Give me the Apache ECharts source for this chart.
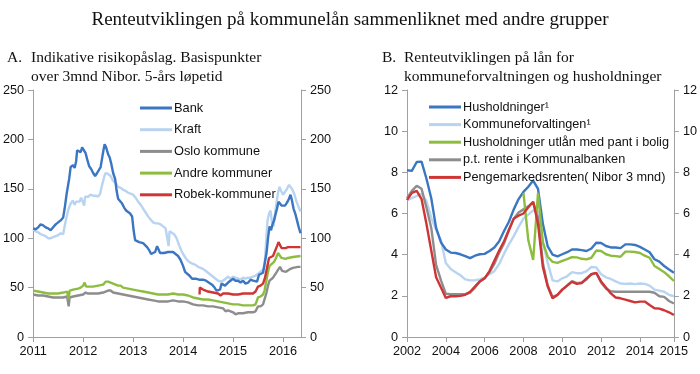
<!DOCTYPE html>
<html><head><meta charset="utf-8">
<script src="https://cdn.jsdelivr.net/npm/echarts@6/dist/echarts.min.js"></script>
<style>html,body{margin:0;padding:0;background:#fff}#c{width:700px;height:374px}</style>
</head><body><div id="c"></div>
<script>
// ---------- Panel A data: [decimal year, basis points] ----------
const bank = [[2011.0,110],[2011.05,109],[2011.1,111],[2011.15,114],[2011.2,113],[2011.25,111],[2011.3,110],[2011.35,108],[2011.4,111],[2011.45,114],[2011.5,116],[2011.55,118],[2011.6,121],[2011.63,130],[2011.67,145],[2011.72,160],[2011.75,172],[2011.8,174],[2011.83,171],[2011.86,178],[2011.88,189],[2011.92,190],[2011.95,187],[2011.98,192],[2012.02,194],[2012.05,186],[2012.08,180],[2012.12,173],[2012.16,170],[2012.2,166],[2012.24,163],[2012.28,166],[2012.31,166],[2012.35,172],[2012.38,181],[2012.41,190],[2012.43,195],[2012.46,192],[2012.5,185],[2012.53,182],[2012.56,176],[2012.6,166],[2012.64,160],[2012.67,148],[2012.7,140],[2012.74,138],[2012.78,135],[2012.82,131],[2012.86,128],[2012.9,126],[2012.94,125],[2012.98,122],[2013.01,108],[2013.04,98],[2013.08,96],[2013.12,96],[2013.16,94],[2013.2,95],[2013.24,93],[2013.28,91],[2013.32,88],[2013.36,84],[2013.4,82],[2013.44,86],[2013.48,92],[2013.51,90],[2013.54,85],[2013.58,84],[2013.62,85],[2013.66,85],[2013.7,86],[2013.75,86],[2013.8,86],[2013.85,84],[2013.9,82],[2013.95,78],[2014.0,72],[2014.04,66],[2014.08,64],[2014.13,62],[2014.18,59],[2014.25,59],[2014.32,58],[2014.4,58],[2014.46,57],[2014.52,55],[2014.58,53],[2014.63,50],[2014.67,47],[2014.71,45],[2014.74,48],[2014.77,54],[2014.8,56],[2014.84,52],[2014.88,53],[2014.92,56],[2014.96,56],[2015.0,59],[2015.05,57],[2015.1,57],[2015.15,55],[2015.2,57],[2015.25,54],[2015.3,55],[2015.35,58],[2015.4,57],[2015.44,55],[2015.48,56],[2015.52,63],[2015.56,64],[2015.6,65],[2015.64,66],[2015.67,85],[2015.7,100],[2015.73,112],[2015.76,108],[2015.79,114],[2015.82,118],[2015.85,120],[2015.88,130],[2015.91,137],[2015.94,135],[2015.97,133],[2016.0,134],[2016.04,133],[2016.08,136],[2016.12,140],[2016.15,144],[2016.18,138],[2016.21,130],[2016.25,124],[2016.28,118],[2016.31,112],[2016.35,105]];
const kraft = [[2011.0,109],[2011.05,107],[2011.1,106],[2011.15,104],[2011.2,103],[2011.25,102],[2011.3,100],[2011.35,100],[2011.4,101],[2011.45,102],[2011.5,103],[2011.55,105],[2011.6,104],[2011.63,112],[2011.67,122],[2011.71,130],[2011.75,135],[2011.79,138],[2011.83,134],[2011.86,137],[2011.9,139],[2011.93,137],[2011.96,141],[2012.0,140],[2012.02,133],[2012.04,142],[2012.1,142],[2012.15,144],[2012.2,143],[2012.25,143],[2012.3,142],[2012.34,145],[2012.38,154],[2012.42,162],[2012.45,166],[2012.5,165],[2012.55,163],[2012.6,158],[2012.65,156],[2012.7,152],[2012.75,151],[2012.8,149],[2012.85,148],[2012.9,146],[2012.95,145],[2013.0,144],[2013.05,141],[2013.1,137],[2013.15,134],[2013.2,130],[2013.25,126],[2013.3,122],[2013.35,119],[2013.4,116],[2013.45,115],[2013.5,115],[2013.55,114],[2013.6,112],[2013.65,110],[2013.69,108],[2013.71,92],[2013.73,107],[2013.77,107],[2013.82,104],[2013.87,100],[2013.92,93],[2013.96,88],[2014.0,84],[2014.05,80],[2014.1,77],[2014.15,75],[2014.2,74],[2014.25,73],[2014.3,71],[2014.35,70],[2014.4,69],[2014.45,67],[2014.5,65],[2014.55,63],[2014.6,61],[2014.65,59],[2014.7,57],[2014.75,56],[2014.8,57],[2014.85,59],[2014.9,61],[2014.95,59],[2015.0,61],[2015.05,60],[2015.1,59],[2015.15,58],[2015.2,60],[2015.25,59],[2015.3,60],[2015.35,60],[2015.4,61],[2015.45,62],[2015.5,64],[2015.55,66],[2015.6,68],[2015.63,72],[2015.66,95],[2015.69,118],[2015.72,125],[2015.75,128],[2015.78,116],[2015.81,112],[2015.84,125],[2015.87,136],[2015.9,146],[2015.93,152],[2015.96,148],[2016.0,144],[2016.04,147],[2016.08,150],[2016.12,154],[2016.15,153],[2016.19,149],[2016.23,144],[2016.27,137],[2016.31,132],[2016.35,127]];
const oslo = [[2011.0,43],[2011.1,42],[2011.2,42],[2011.3,41],[2011.4,40],[2011.5,40],[2011.6,40],[2011.68,41],[2011.71,31],[2011.73,40],[2011.8,41],[2011.9,42],[2012.0,43],[2012.05,45],[2012.1,44],[2012.2,44],[2012.3,44],[2012.4,45],[2012.5,47],[2012.55,47],[2012.6,45],[2012.7,44],[2012.8,43],[2012.9,42],[2013.0,41],[2013.1,40],[2013.2,39],[2013.3,38],[2013.4,37],[2013.5,36],[2013.6,36],[2013.7,36],[2013.8,37],[2013.9,36],[2014.0,36],[2014.1,35],[2014.2,33],[2014.3,32],[2014.4,32],[2014.5,31],[2014.6,31],[2014.7,30],[2014.8,29],[2014.85,26],[2014.9,27],[2015.0,25],[2015.05,23],[2015.1,24],[2015.2,24],[2015.3,25],[2015.4,25],[2015.45,26],[2015.5,31],[2015.55,31],[2015.6,33],[2015.63,35],[2015.67,45],[2015.7,52],[2015.73,57],[2015.76,58],[2015.8,60],[2015.85,64],[2015.9,68],[2015.94,71],[2015.98,67],[2016.02,66],[2016.06,66],[2016.1,68],[2016.15,69],[2016.2,70],[2016.3,71],[2016.35,71]];
const andre = [[2011.0,47],[2011.1,46],[2011.2,45],[2011.3,44],[2011.4,44],[2011.5,44],[2011.6,45],[2011.68,46],[2011.71,38],[2011.73,47],[2011.8,48],[2011.9,49],[2011.95,50],[2012.0,52],[2012.03,55],[2012.06,51],[2012.1,51],[2012.2,51],[2012.3,52],[2012.4,53],[2012.45,56],[2012.5,56],[2012.6,54],[2012.7,52],[2012.75,52],[2012.8,50],[2012.9,49],[2013.0,48],[2013.1,47],[2013.2,46],[2013.3,45],[2013.4,44],[2013.5,43],[2013.6,43],[2013.7,43],[2013.8,44],[2013.9,43],[2014.0,43],[2014.1,42],[2014.2,40],[2014.3,39],[2014.4,38],[2014.5,38],[2014.6,37],[2014.7,36],[2014.8,35],[2014.9,34],[2015.0,33],[2015.1,33],[2015.2,32],[2015.3,32],[2015.4,32],[2015.45,33],[2015.5,40],[2015.55,41],[2015.6,43],[2015.63,47],[2015.67,58],[2015.7,66],[2015.73,72],[2015.77,73],[2015.82,76],[2015.86,80],[2015.9,85],[2015.94,87],[2015.97,80],[2016.0,78],[2016.05,79],[2016.1,80],[2016.2,81],[2016.35,82]];
const robek = [[2014.33,43],[2014.335,50],[2014.4,48],[2014.5,46],[2014.6,45],[2014.7,44],[2014.75,42],[2014.8,44],[2014.9,44],[2015.0,43],[2015.1,43],[2015.2,44],[2015.3,44],[2015.4,44],[2015.45,46],[2015.5,51],[2015.55,52],[2015.6,54],[2015.64,60],[2015.68,70],[2015.72,80],[2015.76,81],[2015.8,82],[2015.84,84],[2015.88,92],[2015.91,96],[2015.94,93],[2015.97,90],[2016.0,88],[2016.05,90],[2016.1,91],[2016.2,91],[2016.35,91]];
const yearTicksA = [2011, 2012, 2013, 2014, 2015, 2016];

// ---------- Panel B data: quarterly, percent ----------
const quarters = ['2002K1','2002K2','2002K3','2002K4','2003K1','2003K2','2003K3','2003K4','2004K1','2004K2','2004K3','2004K4','2005K1','2005K2','2005K3','2005K4','2006K1','2006K2','2006K3','2006K4','2007K1','2007K2','2007K3','2007K4','2008K1','2008K2','2008K3','2008K4','2009K1','2009K2','2009K3','2009K4','2010K1','2010K2','2010K3','2010K4','2011K1','2011K2','2011K3','2011K4','2012K1','2012K2','2012K3','2012K4','2013K1','2013K2','2013K3','2013K4','2014K1','2014K2','2014K3','2014K4','2015K1','2015K2','2015K3','2015K4'];
const hush = [8.1,8.07,8.5,8.52,7.7,6.74,5.3,4.6,4.25,4.1,4.08,4.02,3.93,3.83,3.95,4.02,4.04,4.18,4.35,4.65,5.15,5.6,6.2,6.7,7.05,7.3,7.6,7.2,5.5,4.4,4.0,3.92,4.02,4.12,4.25,4.25,4.22,4.18,4.3,4.58,4.57,4.42,4.35,4.35,4.32,4.5,4.5,4.47,4.38,4.25,4.12,3.78,3.66,3.45,3.28,3.12];
const kommune = [6.65,6.75,6.85,6.95,6.6,5.8,5.2,4.7,3.6,3.3,3.15,3.0,2.8,2.75,2.76,2.8,2.9,3.05,3.2,3.55,4.05,4.5,4.9,5.35,5.75,5.95,6.15,6.1,4.6,3.6,2.75,2.7,2.85,2.95,3.15,3.1,3.1,3.2,3.4,3.38,3.05,2.9,2.82,2.7,2.6,2.58,2.6,2.57,2.6,2.58,2.5,2.3,2.25,2.2,2.05,1.98];
const pantBolig = [null,null,null,null,null,null,null,null,null,null,null,null,null,null,null,null,null,null,null,null,null,null,null,null,7.0,4.7,3.74,7.0,4.6,3.9,3.65,3.6,3.7,3.78,3.88,3.87,3.8,3.77,3.85,4.2,4.18,4.02,3.95,3.93,3.9,4.15,4.15,4.13,4.08,3.95,3.85,3.45,3.3,3.15,2.95,2.72];
const ptRente = [6.75,7.1,7.35,7.2,6.3,5.3,3.5,2.75,2.1,2.08,2.08,2.08,2.08,2.15,2.4,2.7,2.85,3.15,3.55,4.1,4.55,5.2,5.75,6.05,6.2,6.35,6.55,5.8,3.6,2.5,1.95,2.05,2.3,2.5,2.72,2.62,2.65,2.8,3.05,3.1,2.65,2.35,2.22,2.2,2.2,2.2,2.2,2.2,2.2,2.2,2.2,2.15,1.98,1.95,1.75,1.63];
const nibor = [6.65,7.0,7.1,6.7,5.5,4.2,2.9,2.4,1.9,1.98,1.98,2.0,2.05,2.2,2.45,2.7,2.85,3.2,3.7,4.2,4.65,5.2,5.75,5.9,6.0,6.3,6.57,5.5,3.4,2.45,1.88,2.04,2.3,2.5,2.68,2.58,2.62,2.85,3.05,3.12,2.7,2.4,2.12,1.92,1.88,1.82,1.75,1.68,1.72,1.72,1.55,1.4,1.38,1.3,1.2,1.07];

// ---------- styling ----------
const SANS = "'Liberation Sans', Arial, Helvetica, sans-serif";
const SERIF = "'Liberation Serif', 'Times New Roman', serif";
const AXIS_COLOR = '#a0a0a0';
const C_BLUE = '#3b76c2', C_LBLUE = '#b9d4f0', C_GRAY = '#8d8d8d', C_GREEN = '#8dbd3e', C_RED = '#cf3535';

const chart = echarts.init(document.getElementById('c'), null, {renderer: 'canvas'});

function yAx(grid, pos, max, interval) {
  return {
    type: 'value', gridIndex: grid, position: pos, min: 0, max: max, interval: interval,
    axisLine: {show: true, lineStyle: {color: AXIS_COLOR, width: 1}},
    axisTick: {show: true, length: 5, lineStyle: {color: AXIS_COLOR}},
    axisLabel: {color: '#111', fontFamily: SANS, fontSize: 12.7, margin: 9},
    splitLine: {show: false}
  };
}
const tickShowB = (i) => (i % 8 === 0) || i === quarters.length - 1;

function line(name, data, color, xi, yi, z) {
  return {
    name: name, type: 'line', data: data, xAxisIndex: xi, yAxisIndex: yi,
    showSymbol: false, symbol: 'none', z: z, connectNulls: false,
    lineStyle: {color: color, width: 2.4}, itemStyle: {color: color},
    emphasis: {disabled: true}, animation: false
  };
}

const option = {
  animation: false,
  grid: [
    {left: 32, right: 399, top: 90, bottom: 37},
    {left: 407, right: 26, top: 90, bottom: 37}
  ],
  xAxis: [
    {
      type: 'value', gridIndex: 0, min: 2011, max: 2016.36,
      axisLine: {show: true, onZero: false, lineStyle: {color: AXIS_COLOR}},
      axisTick: {show: true, length: 5, lineStyle: {color: AXIS_COLOR}, customValues: yearTicksA},
      axisLabel: {color: '#111', fontFamily: SANS, fontSize: 12.7, margin: 8, customValues: yearTicksA,
                  formatter: v => String(v)},
      splitLine: {show: false}
    },
    {
      type: 'category', gridIndex: 1, data: quarters, boundaryGap: false,
      axisLine: {show: true, onZero: false, lineStyle: {color: AXIS_COLOR}},
      axisTick: {show: true, length: 5, lineStyle: {color: AXIS_COLOR}, interval: tickShowB, alignWithLabel: true},
      axisLabel: {color: '#111', fontFamily: SANS, fontSize: 12.7, margin: 8, interval: tickShowB,
                  formatter: v => v.slice(0, 4)},
      splitLine: {show: false}
    }
  ],
  yAxis: [
    yAx(0, 'left', 250, 50), yAx(0, 'right', 250, 50),
    yAx(1, 'left', 12, 2), yAx(1, 'right', 12, 2)
  ],
  legend: [
    {
      orient: 'vertical', left: 140, top: 100, padding: 0, itemGap: 5.7,
      itemWidth: 32, itemHeight: 3, icon: 'rect',
      textStyle: {fontFamily: SANS, fontSize: 12.8, color: '#111', lineHeight: 16, padding: [0, 0, 0, -3]},
      data: ['Bank', 'Kraft', 'Oslo kommune', 'Andre kommuner', 'Robek-kommuner'],
      selectedMode: false
    },
    {
      orient: 'vertical', left: 429, top: 99, padding: 0, itemGap: 1.6,
      itemWidth: 32, itemHeight: 3, icon: 'rect',
      textStyle: {fontFamily: SANS, fontSize: 12.7, color: '#111', lineHeight: 16, padding: [0, 0, 0, -3]},
      data: ['Husholdninger\u00b9', 'Kommuneforvaltingen\u00b9', 'Husholdninger utlån med pant i bolig', 'p.t. rente i Kommunalbanken', 'Pengemarkedsrenten( Nibor 3 mnd)'],
      selectedMode: false
    }
  ],
  series: [
    line('Kraft', kraft, C_LBLUE, 0, 0, 2),
    line('Bank', bank, C_BLUE, 0, 0, 3),
    line('Oslo kommune', oslo, C_GRAY, 0, 0, 2),
    line('Andre kommuner', andre, C_GREEN, 0, 0, 2),
    line('Robek-kommuner', robek, C_RED, 0, 0, 3),
    line('Kommuneforvaltingen\u00b9', kommune, C_LBLUE, 1, 2, 2),
    line('p.t. rente i Kommunalbanken', ptRente, C_GRAY, 1, 2, 2),
    line('Husholdninger\u00b9', hush, C_BLUE, 1, 2, 3),
    line('Husholdninger utlån med pant i bolig', pantBolig, C_GREEN, 1, 2, 3),
    line('Pengemarkedsrenten( Nibor 3 mnd)', nibor, C_RED, 1, 2, 4)
  ],
  graphic: [
    {type: 'text', left: 'center', top: 11, style: {text: 'Renteutviklingen på kommunelån sammenliknet med andre grupper', font: '19px ' + SERIF, fill: '#111'}},
    {type: 'text', x: 7, y: 58, style: {text: 'A.', font: '15.5px ' + SERIF, fill: '#111', textVerticalAlign: 'middle'}},
    {type: 'text', x: 31, y: 58, style: {text: 'Indikative risikopåslag. Basispunkter', font: '15.5px ' + SERIF, fill: '#111', textVerticalAlign: 'middle'}},
    {type: 'text', x: 31, y: 76.5, style: {text: 'over 3mnd Nibor. 5-års løpetid', font: '15.5px ' + SERIF, fill: '#111', textVerticalAlign: 'middle'}},
    {type: 'text', x: 382, y: 58, style: {text: 'B.', font: '15.5px ' + SERIF, fill: '#111', textVerticalAlign: 'middle'}},
    {type: 'text', x: 404, y: 58, style: {text: 'Renteutviklingen på lån for', font: '15.5px ' + SERIF, fill: '#111', textVerticalAlign: 'middle'}},
    {type: 'text', x: 404, y: 76.5, style: {text: 'kommuneforvaltningen og husholdninger', font: '15.5px ' + SERIF, fill: '#111', textVerticalAlign: 'middle'}}
  ]
};
chart.setOption(option);
</script>
</body></html>
